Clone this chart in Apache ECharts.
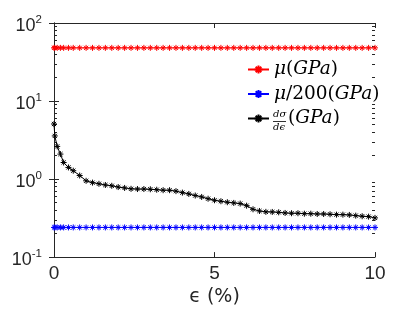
<!DOCTYPE html>
<html>
<head>
<meta charset="utf-8">
<script src="https://cdn.jsdelivr.net/npm/echarts@6/dist/echarts.min.js"></script>
<style>html,body{margin:0;padding:0;background:#fff;}#c{width:415px;height:312px;}</style>
</head>
<body>
<div id="c"></div>
<script>
const strain = [0, 0.025, 0.1, 0.2, 0.3, 0.45, 0.6, 0.8, 1.0, 1.2, 1.4, 1.6, 1.8, 2.0, 2.2, 2.4, 2.6, 2.8, 3.0, 3.2, 3.4, 3.6, 3.8, 4.0, 4.2, 4.4, 4.6, 4.8, 5.0, 5.2, 5.4, 5.6, 5.8, 6.0, 6.2, 6.4, 6.6, 6.8, 7.0, 7.2, 7.4, 7.6, 7.8, 8.0, 8.2, 8.4, 8.6, 8.8, 9.0, 9.2, 9.4, 9.6, 9.8, 10.0];
const muGPa = [48, 48, 48, 48, 48, 48, 48, 48, 48, 48, 48, 48, 48, 48, 48, 48, 48, 48, 48, 48, 48, 48, 48, 48, 48, 48, 48, 48, 48, 48, 48, 48, 48, 48, 48, 48, 48, 48, 48, 48, 48, 48, 48, 48, 48, 48, 48, 48, 48, 48, 48, 48, 48, 48];
const mu200GPa = [0.24, 0.24, 0.24, 0.24, 0.24, 0.24, 0.24, 0.24, 0.24, 0.24, 0.24, 0.24, 0.24, 0.24, 0.24, 0.24, 0.24, 0.24, 0.24, 0.24, 0.24, 0.24, 0.24, 0.24, 0.24, 0.24, 0.24, 0.24, 0.24, 0.24, 0.24, 0.24, 0.24, 0.24, 0.24, 0.24, 0.24, 0.24, 0.24, 0.24, 0.24, 0.24, 0.24, 0.24, 0.24, 0.24, 0.24, 0.24, 0.24, 0.24, 0.24, 0.24, 0.24, 0.24];
const tangentGPa = [5.08, 3.57, 2.62, 2.09, 1.63, 1.41, 1.28, 1.11, 0.95, 0.90, 0.87, 0.84, 0.82, 0.79, 0.77, 0.75, 0.745, 0.745, 0.74, 0.73, 0.72, 0.72, 0.70, 0.67, 0.645, 0.615, 0.59, 0.56, 0.535, 0.52, 0.505, 0.495, 0.485, 0.456, 0.41, 0.39, 0.38, 0.379, 0.375, 0.368, 0.365, 0.365, 0.36, 0.36, 0.357, 0.357, 0.354, 0.35, 0.35, 0.347, 0.34, 0.334, 0.33, 0.318];
const xTicks = [0, 5, 10];
const yMajor = [0.1, 1, 10, 100];
const yMinor = [0.2,0.3,0.4,0.5,0.6,0.7,0.8,0.9,2,3,4,5,6,7,8,9,20,30,40,50,60,70,80,90];
const yExp = {'0.1':'-1','1':'0','10':'1','100':'2'};

const AX = '#262626';
const star = 'path://M5 0L5 10M0 5L10 5M1.5 1.5L8.5 8.5M1.5 8.5L8.5 1.5';
function pairs(ys){ return strain.map((x,i)=>[x, ys[i]]); }
function mk(name, ys, color){
  return {name, type:'line', data:pairs(ys), xAxisIndex:0, yAxisIndex:0,
    symbol:star, symbolSize:6, showSymbol:true,
    lineStyle:{color, width:1}, itemStyle:{color, borderColor:color, borderWidth:1},
    emphasis:{disabled:true}, animation:false};
}
const chart = echarts.init(document.getElementById('c'), null, {renderer:'canvas'});
const serif = 'DejaVu Serif';
const richL = {
  i:{fontFamily:serif, fontStyle:'italic', fontSize:18.5, color:'#000', lineHeight:20},
  r:{fontFamily:serif, fontSize:18.5, color:'#000', lineHeight:20},
  fr:{width:14, lineHeight:20}
};
const grid = {left:54, right:40, top:23, bottom:54};
const tickCommon = {inside:true, length:5, lineStyle:{color:AX, width:1}};
chart.setOption({
  animation:false,
  grid,
  xAxis:[
    {type:'value', min:0, max:10, interval:5, position:'bottom',
     axisLine:{lineStyle:{color:AX, width:1}}, axisTick:tickCommon,
     splitLine:{show:false},
     axisLabel:{fontFamily:'Liberation Sans', fontSize:19, color:AX, margin:7},
     name:'ϵ (%)', nameLocation:'middle', nameGap:27,
     nameTextStyle:{fontFamily:'DejaVu Sans', fontSize:19, color:AX}},
    {type:'value', min:0, max:10, interval:5, position:'top',
     axisLine:{lineStyle:{color:AX, width:1}}, axisTick:tickCommon,
     splitLine:{show:false}, axisLabel:{show:false}}
  ],
  yAxis:[
    {type:'log', logBase:10, min:0.1, max:100, position:'left',
     axisLine:{show:true, lineStyle:{color:AX, width:1}}, axisTick:tickCommon,
     splitLine:{show:false},
     axisLabel:{margin:12, formatter:(v)=>'{b|10}{s|'+(yExp[String(v)]||'')+'}',
       rich:{b:{fontFamily:'Liberation Sans', fontSize:18, color:AX, padding:[6,0,0,0]},
             s:{fontFamily:'Liberation Sans', fontSize:11.5, color:AX, padding:[0,0,6,0]}}}},
    {type:'log', logBase:10, min:0.1, max:100, position:'right',
     axisLine:{show:true, lineStyle:{color:AX, width:1}}, axisTick:tickCommon,
     splitLine:{show:false}, axisLabel:{show:false}},
    {type:'log', logBase:10, min:0.1, max:100, position:'left',
     axisLine:{show:false}, axisTick:{inside:true, length:3, customValues:yMinor, lineStyle:{color:AX, width:1}},
     splitLine:{show:false}, axisLabel:{show:false}},
    {type:'log', logBase:10, min:0.1, max:100, position:'right',
     axisLine:{show:false}, axisTick:{inside:true, length:3, customValues:yMinor, lineStyle:{color:AX, width:1}},
     splitLine:{show:false}, axisLabel:{show:false}}
  ],
  legend:{orient:'vertical', left:247, top:60, padding:0, itemWidth:21, itemHeight:10, itemGap:5.5,
    data:['mu','mu200','dsde'],
    formatter:(n)=>{
      if(n==='mu') return '{i|μ}{r|(}{i|GPa}{r|)}';
      if(n==='mu200') return '{i|μ}{r|/200(}{i|GPa}{r|)}';
      return '{fr|}{r|(}{i|GPa}{r|)}';
    },
    textStyle:{rich:richL}, selectedMode:false},
  graphic:[
    {type:'text', left:273, top:109, style:{text:'dσ', font:'italic 10px "DejaVu Serif"', fill:'#000'}},
    {type:'line', shape:{x1:273, y1:121.5, x2:286, y2:121.5}, style:{stroke:'#000', lineWidth:0.8}},
    {type:'text', left:273, top:122, style:{text:'dϵ', font:'italic 10px "DejaVu Serif"', fill:'#000'}}
  ],
  series:[
    mk('mu', muGPa, '#ff0000'),
    mk('mu200', mu200GPa, '#0000ff'),
    mk('dsde', tangentGPa, '#000000')
  ]
});
</script>
</body>
</html>
